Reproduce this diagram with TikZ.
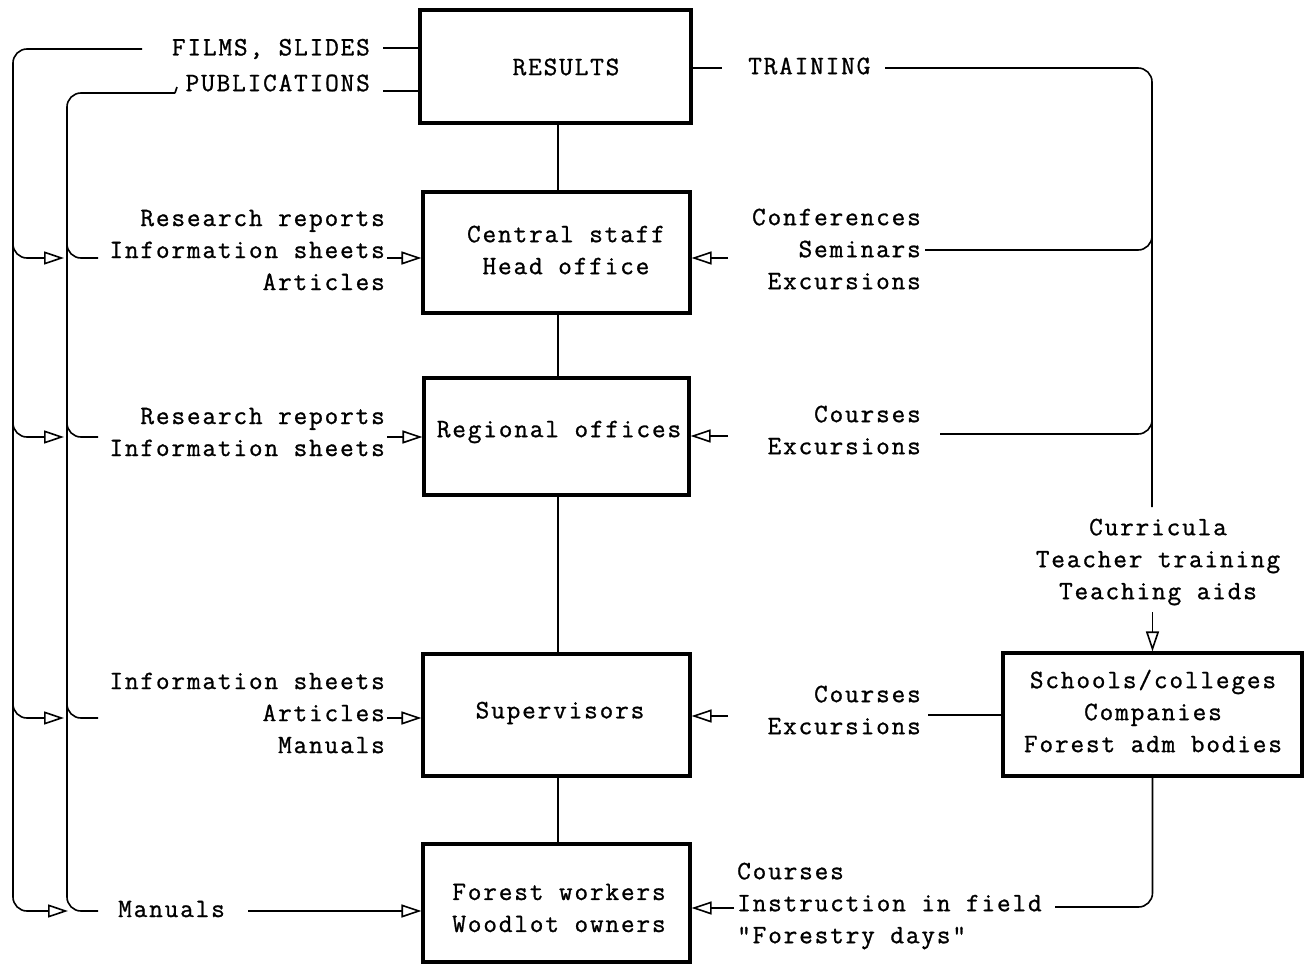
\documentclass[tikz,border=0pt]{standalone}
\usepackage{fontspec}
\setmonofont{Latin Modern Mono}[LetterSpace=7,FakeBold=1]
\usetikzlibrary{arrows.meta}
\begin{document}
\begin{tikzpicture}[x=1pt,y=-1pt,
  every node/.style={font=\ttfamily\fontsize{26.5}{32}\selectfont, inner sep=0pt},
  box/.style={draw, line width=3.2pt, minimum width=#1},
  ln/.style={line width=1.6pt},
  oa/.style={-{Triangle[open,length=20pt,width=13pt,line width=1.6pt]}},
  rc/.style={rounded corners=14pt}]
\useasboundingbox (0,0) rectangle (1310,964);

% boxes
\node[box=271pt, minimum height=113pt] (res) at (555.5,66.5) {};
\node (resT) at (566,67) {RESULTS};
\node[box=267pt, minimum height=121pt] (cen) at (556.5,252.5) {};
\node[align=center] (cenT) at (566,250) {Central staff\\Head office};
\node[box=265pt, minimum height=117pt] (reg) at (556.5,436.5) {};
\node (regT) at (559,432) {Regional offices};
\node[box=267pt, minimum height=122pt] (sup) at (556.5,715) {};
\node (supT) at (560,713) {Supervisors};
\node[box=267pt, minimum height=118pt] (fw) at (556.5,903) {};
\node[align=center] (fwT) at (559,908) {Forest workers\\Woodlot owners};
\node[box=299pt, minimum height=123pt] (sch) at (1152.5,714.5) {};
\node[align=center] (schT) at (1153,711) {Schools/colleges\\Companies\\Forest adm bodies};

% labels
\node[anchor=east] (films) at (370,49) {FILMS, SLIDES};
\node[anchor=east] (pub) at (370,83) {PUBLICATIONS};
\node[anchor=west] (train) at (748,66) {TRAINING};
\node[anchor=east, align=right] (cenL) at (385,250) {Research reports\\Information sheets\\Articles};
\node[anchor=east, align=right] (cenR) at (921,249) {Conferences\\Seminars\\Excursions};
\node[anchor=east, align=right] (regL) at (385,432) {Research reports\\Information sheets};
\node[anchor=east, align=right] (regR) at (921,430) {Courses\\Excursions};
\node[align=center] (curr) at (1158,562) {Curricula\\Teacher training\\Teaching aids};
\node[anchor=east, align=right] (supL) at (385,713) {Information sheets\\Articles\\Manuals};
\node[anchor=east, align=right] (supR) at (921,710) {Courses\\Excursions};
\node[anchor=west] (man) at (118,909) {Manuals};
\node[anchor=west, align=left] (fwR) at (737,906) {Courses\\Instruction in field\\"Forestry days"};

% vertical chain
\draw[ln] (res.south -| 558,0) -- (cen.north -| 558,0);
\draw[ln] (cen.south -| 558,0) -- (reg.north -| 558,0);
\draw[ln] (reg.south -| 558,0) -- (sup.north -| 558,0);
\draw[ln] (sup.south -| 558,0) -- (fw.north -| 558,0);

% results outputs
\coordinate (fl) at (383,48);
\coordinate (pl) at (383,91);
\draw[ln] (fl) -- (fl -| res.west);
\draw[ln] (pl) -- (pl -| res.west);
\coordinate (tr) at (722,68);
\draw[ln] (tr -| res.east) -- (tr);

% left brackets
\coordinate (fo) at (142,49);
\coordinate (po) at (175,93);
\draw[ln,rc,oa] (fo) -- (13,49) -- (13,911) -- (68,911);
\draw[ln,rc] (po) -- (67,93) -- (67,911) -- (98,911);
\draw[ln] (po) -- (177,87);
\foreach \yy in {258,437,718}{
  \draw[ln,rc,oa] (13,\yy-25) -- (13,\yy) -- (64,\yy);
  \draw[ln,rc] (67,\yy-25) -- (67,\yy) -- (98,\yy);
}

% arrows into boxes from left
\coordinate (a1) at (387,258);
\coordinate (a2) at (387,437);
\coordinate (a3) at (387,718);
\coordinate (a4) at (248,911);
\draw[ln,oa] (a1) -- (a1 -| cen.west);
\draw[ln,oa] (a2) -- (a2 -| reg.west);
\draw[ln,oa] (a3) -- (a3 -| sup.west);
\draw[ln,oa] (a4) -- (a4 -| fw.west);

% arrows into boxes from right
\coordinate (b1) at (728,258);
\coordinate (b2) at (728,436);
\coordinate (b3) at (728,716);
\coordinate (b4) at (734,908);
\draw[ln,oa] (b1) -- (b1 -| cen.east);
\draw[ln,oa] (b2) -- (b2 -| reg.east);
\draw[ln,oa] (b3) -- (b3 -| sup.east);
\draw[ln,oa] (b4) -- (b4 -| fw.east);

% training tree
\coordinate (t0) at (885,68);
\coordinate (tv) at (1152,507);
\draw[ln,rc] (t0) -- (1152,68) -- (tv);
\coordinate (s0) at (925,250);
\draw[ln,rc] (s0) -- (1152,250) -- (1152,222);
\coordinate (c0) at (940,434);
\draw[ln,rc] (c0) -- (1152,434) -- (1152,406);

% curricula to schools
\coordinate (ta) at (1152.5,612);
\draw[ln,oa] (ta) -- (sch.north);

% schools outputs
\coordinate (e0) at (928,715);
\draw[ln] (e0) -- (e0 -| sch.west);
\coordinate (f0) at (1055,907);
\draw[ln,rc] (sch.south) -- (1152.5,907) -- (f0);
\end{tikzpicture}
\end{document}
